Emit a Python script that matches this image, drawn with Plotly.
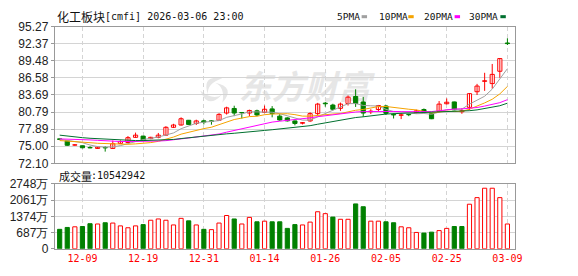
import math
import plotly.graph_objects as go

# ---------------- data ----------------
dates = ["12-04", "12-05", "12-08", "12-09", "12-10", "12-11", "12-12", "12-15", "12-16", "12-17",
         "12-18", "12-19", "12-22", "12-23", "12-24", "12-25", "12-26", "12-29", "12-30", "12-31",
         "01-05", "01-06", "01-07", "01-08", "01-09", "01-12", "01-13", "01-14", "01-15", "01-16",
         "01-19", "01-20", "01-21", "01-22", "01-23", "01-26", "01-27", "01-28", "01-29", "01-30",
         "02-02", "02-03", "02-04", "02-05", "02-06", "02-09", "02-10", "02-11", "02-12", "02-13",
         "02-24", "02-25", "02-26", "02-27", "03-02", "03-03", "03-04", "03-05", "03-06", "03-09"]

opens = [76.25, 75.91, 75.18, 75.08, 74.78, 74.63, 74.78, 74.63, 75.48, 75.64,
         76.51, 76.72, 76.29, 76.51, 76.88, 78.21, 78.60, 79.40, 78.86, 79.30,
         79.30, 79.40, 80.63, 81.40, 80.72, 80.63, 81.00, 80.74, 81.33, 80.10,
         79.80, 79.29, 78.90, 79.29, 80.53, 82.30, 81.98, 81.43, 82.24, 83.43,
         82.50, 80.85, 81.22, 81.82, 80.40, 80.25, 80.40, 80.74, 81.22, 80.53,
         80.90, 82.20, 82.51, 80.85, 81.59, 84.24, 86.00, 85.62, 87.71, 92.50]
highs = [76.30, 75.95, 75.35, 75.10, 75.00, 74.90, 74.99, 75.96, 76.00, 76.72,
         77.31, 76.75, 76.60, 77.25, 78.40, 78.80, 79.90, 79.45, 79.50, 79.50,
         79.40, 80.60, 81.70, 81.87, 80.75, 81.20, 81.20, 81.90, 81.80, 80.45,
         79.90, 79.35, 79.10, 80.75, 82.35, 82.50, 82.20, 82.40, 83.60, 84.65,
         83.36, 81.27, 82.00, 82.00, 80.60, 80.60, 80.50, 81.20, 81.40, 80.55,
         82.66, 83.10, 82.55, 81.45, 84.00, 85.57, 87.45, 88.95, 89.90, 93.30]
lows = [76.05, 75.10, 75.10, 74.65, 74.65, 74.55, 74.09, 74.60, 75.45, 75.60,
        76.45, 76.00, 76.20, 76.35, 76.80, 78.10, 78.50, 78.65, 78.60, 78.70,
        78.65, 79.30, 80.37, 80.10, 79.70, 80.10, 80.10, 80.60, 79.90, 79.30,
        79.20, 78.54, 78.70, 79.15, 80.30, 81.70, 81.10, 81.00, 81.90, 81.66,
        79.98, 80.47, 80.90, 80.30, 79.70, 79.60, 80.10, 80.55, 80.75, 79.60,
        80.80, 82.10, 81.10, 80.50, 81.10, 83.68, 84.39, 84.76, 86.60, 92.16]
closes = [76.15, 75.16, 75.25, 74.74, 74.72, 74.84, 74.72, 75.43, 75.80, 76.45,
          76.88, 76.07, 76.51, 76.88, 78.21, 78.60, 79.66, 78.70, 79.29, 79.10,
          79.20, 80.40, 81.50, 80.63, 80.66, 81.06, 80.30, 81.27, 80.53, 79.45,
          79.30, 78.86, 79.00, 80.53, 82.14, 82.20, 81.27, 82.14, 83.32, 82.24,
          80.63, 80.95, 81.90, 80.58, 80.30, 80.32, 80.34, 81.00, 80.80, 79.66,
          82.14, 82.46, 81.17, 81.00, 83.91, 85.20, 86.10, 87.18, 89.86, 92.40]
volumes = [823, 903, 930, 943, 1062, 1049, 1102, 1089, 969, 890,
           969, 1023, 1208, 1262, 1208, 1009, 1288, 1182, 1009, 823,
           810, 1089, 1408, 1262, 1049, 1328, 1142, 1169, 1142, 1142,
           863, 1023, 1009, 1129, 1567, 1487, 1341, 1248, 1248, 1899,
           1780, 1169, 1169, 1142, 1102, 930, 890, 691, 664, 704,
           770, 863, 943, 943, 1886, 2165, 2563, 2563, 2165, 1049]  # 万

ma5_head = [76.19, 75.99, 75.80, 75.60]
ma10_head = [75.96, 75.90, 75.80, 75.70, 75.60, 75.50, 75.43, 75.35, 75.28]
ma20_head = [76.24, 76.22, 76.20, 76.15, 76.07, 76.00, 75.90, 75.85, 75.80, 75.80,
             75.80, 75.80, 75.82, 75.88, 75.95, 76.05, 76.25, 76.40, 76.55]
ma30_head = [76.88, 76.70, 76.51, 76.45, 76.35, 76.29, 76.22, 76.10, 76.00, 75.96,
             75.96, 75.96, 76.00, 76.03, 76.07, 76.15, 76.30, 76.45, 76.60, 76.72,
             76.85, 76.97, 77.10, 77.20, 77.35, 77.45, 77.55, 77.68, 77.80]

price_ticks = [72.10, 75.00, 77.89, 80.79, 83.69, 86.58, 89.48, 92.37, 95.27]
vol_ticks = [0, 687, 1374, 2061, 2748]
vol_tick_text = ["0", "687万", "1374万", "2061万", "2748万"]
label_dates = ["12-09", "12-19", "12-31", "01-14", "01-26", "02-05", "02-25", "03-09"]

title_name = "化工板块"
title_rest = "[cmfi] 2026-03-06 23:00"
vol_name = "成交量"
vol_total = ":10542942"
watermark = "东方财富"
ma_names = ["5PMA", "10PMA", "20PMA", "30PMA"]

# ---------------- derived ----------------
n = len(closes)
xs = list(range(n))


def moving_avg(head, w):
    out = list(head)
    for i in range(len(head), n):
        out.append(sum(closes[i - w + 1:i + 1]) / w)
    return out


mas = [moving_avg(ma5_head, 5), moving_avg(ma10_head, 10),
       moving_avg(ma20_head, 20), moving_avg(ma30_head, 30)]

RED = "#ff0000"
GREEN = "#008000"
MA_COLORS = ["#a0a0a0", "#f5a300", "#ff00ff", "#00702f"]
WM_COLOR = "#e6e6e6"
W, H = 578, 276


def px(x):
    return x / W


def py(y):
    return 1 - y / H


up = [c >= o for o, c in zip(opens, closes)]
vol_up = [closes[i] >= (closes[i - 1] if i > 0 else opens[i]) for i in range(n)]

fig = go.Figure()

# wicks
for flag, col in [(True, RED), (False, GREEN)]:
    wx, wy = [], []
    for i in range(n):
        if up[i] == flag:
            wx += [i, i, None]
            wy += [lows[i], highs[i], None]
    fig.add_trace(go.Scatter(x=wx, y=wy, mode="lines", line=dict(color=col, width=1),
                             hoverinfo="skip", showlegend=False, xaxis="x", yaxis="y"))

# bodies
for flag, col, fill in [(True, RED, "#ffffff"), (False, GREEN, GREEN)]:
    bx = [i for i in range(n) if up[i] == flag]
    base = [min(opens[i], closes[i]) for i in bx]
    hgt = [abs(closes[i] - opens[i]) for i in bx]
    fig.add_trace(go.Bar(x=bx, y=hgt, base=base, width=0.55,
                         marker=dict(color=fill, line=dict(color=col, width=1)),
                         showlegend=False, xaxis="x", yaxis="y"))

# moving averages
for m, col in zip(mas, MA_COLORS):
    fig.add_trace(go.Scatter(x=xs, y=m, mode="lines", line=dict(color=col, width=1),
                             showlegend=False, xaxis="x", yaxis="y"))

# volume
for flag, col, fill in [(True, RED, "#ffffff"), (False, GREEN, GREEN)]:
    bx = [i for i in range(n) if vol_up[i] == flag]
    fig.add_trace(go.Bar(x=bx, y=[volumes[i] for i in bx], width=0.55,
                         marker=dict(color=fill, line=dict(color=col, width=1)),
                         showlegend=False, xaxis="x2", yaxis="y2"))

tick_idx = [dates.index(d) for d in label_dates]
x_dom = [px(55.5), px(522)]
x_range = [-0.65, 59.97]
grid_col = "#d4d4d4"
frame_col = "#999999"
tick_font = dict(family="Liberation Sans, Arial", size=12, color="#222222")

common_x = dict(range=x_range, domain=x_dom, tickmode="array", tickvals=tick_idx,
                showgrid=True, gridcolor=grid_col, griddash="4px,3px", gridwidth=1,
                showline=True, linecolor=frame_col, mirror=True, zeroline=False,
                ticks="", fixedrange=True)

fig.update_layout(
    width=W, height=H, margin=dict(l=0, r=0, t=0, b=0),
    paper_bgcolor="white", plot_bgcolor="white", barmode="overlay",
    showlegend=False,
    xaxis=dict(**common_x, anchor="y", showticklabels=False),
    yaxis=dict(domain=[py(164.7), py(20.7)], range=[72.10, 95.27], tickmode="array",
               tickvals=price_ticks, ticktext=[f"{v:.2f}" for v in price_ticks],
               showgrid=True, gridcolor=grid_col, showline=True, linecolor=frame_col,
               mirror=True, ticks="outside", ticklen=3, tickcolor=frame_col,
               tickfont=tick_font, zeroline=False, anchor="x"),
    xaxis2=dict(**common_x, anchor="y2", showticklabels=True,
                ticktext=label_dates,
                tickfont=dict(family="DejaVu Sans Mono", size=10, color=RED)),
    yaxis2=dict(domain=[py(254.7), py(186.3)], range=[0, 2748], tickmode="array",
                tickvals=vol_ticks, ticktext=vol_tick_text,
                showgrid=True, gridcolor=grid_col, showline=True, linecolor=frame_col,
                mirror=True, ticks="outside", ticklen=3, tickcolor=frame_col,
                tickfont=tick_font, zeroline=False, anchor="x2"),
)

ann = []
ann.append(dict(text=title_name, x=px(56), y=py(10), xref="paper", yref="paper",
                xanchor="left", yanchor="middle", showarrow=False,
                font=dict(family="Noto Sans CJK SC", size=12, color="#111111")))
ann.append(dict(text=title_rest, x=px(104.5), y=py(10), xref="paper", yref="paper",
                xanchor="left", yanchor="middle", showarrow=False,
                font=dict(family="DejaVu Sans Mono", size=10, color="#111111")))
ann.append(dict(text=vol_name, x=px(57.5), y=py(178), xref="paper", yref="paper",
                xanchor="left", yanchor="middle", showarrow=False,
                font=dict(family="Noto Sans CJK SC", size=11, color="#111111")))
ann.append(dict(text=vol_total, x=px(90), y=py(178), xref="paper", yref="paper",
                xanchor="left", yanchor="middle", showarrow=False,
                font=dict(family="DejaVu Sans Mono", size=10, color="#111111")))

legend_text_x = [340, 382.6, 427.8, 474]
legend_sq_x = [366.7, 414, 461, 507.4]
shapes = []
for name, tx, sx, col in zip(ma_names, legend_text_x, legend_sq_x, MA_COLORS):
    ann.append(dict(text=name, x=px(tx), y=py(10), xref="paper", yref="paper",
                    xanchor="left", yanchor="middle", showarrow=False,
                    font=dict(family="DejaVu Sans Mono", size=9.5, color="#111111")))
    shapes.append(dict(type="rect", xref="paper", yref="paper",
                       x0=px(sx), x1=px(sx + 5.5), y0=py(11.8), y1=py(8.6),
                       fillcolor=col, line=dict(width=0)))

# watermark text
shapes.append(dict(type="rect", xref="paper", yref="paper", layer="below",
                   x0=px(236), x1=px(382), y0=py(104), y1=py(70),
                   line=dict(width=0), fillcolor="rgba(0,0,0,0)",
                   label=dict(text=watermark, textposition="middle center",
                              font=dict(family="Noto Sans CJK SC", size=33,
                                        weight=700, style="italic",
                                        color=WM_COLOR))))

# watermark swirl logo (three curved blades)
cx, cy, R = 218.0, 88.0, 15.0


def pt(ang, r):
    a = math.radians(ang)
    return px(cx + r * math.cos(a)), py(cy - r * math.sin(a))


for k in range(3):
    a0 = 60 + 120 * k
    p0 = pt(a0, R)
    p1 = pt(a0 + 150, R * 0.55)
    co = pt(a0 + 70, R * 1.45)
    ci = pt(a0 + 80, R * 0.75)
    path = (f"M {p0[0]},{p0[1]} Q {co[0]},{co[1]} {p1[0]},{p1[1]} "
            f"Q {ci[0]},{ci[1]} {p0[0]},{p0[1]} Z")
    shapes.append(dict(type="path", xref="paper", yref="paper", layer="below",
                       path=path, fillcolor=WM_COLOR, line=dict(width=0)))

fig.update_layout(annotations=ann, shapes=shapes)
fig.write_html("out.html")
